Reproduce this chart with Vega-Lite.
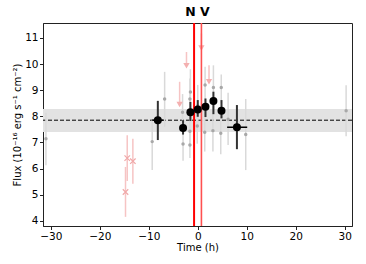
{
  "$schema": "https://vega.github.io/schema/vega-lite/v6.json",
  "width": 309,
  "height": 203,
  "autosize": {"type": "none"},
  "padding": {"left": 43, "top": 23, "right": 14, "bottom": 38},
  "title": {"text": "N V", "fontSize": 12.5, "fontWeight": "bold", "font": "DejaVu Sans", "color": "black", "offset": 4, "anchor": "middle", "frame": "group"},
  "datasets": {
    "gray": [
      {"t": -31.0, "v": 7.14, "lo": 6.13, "hi": 8.13},
      {"t": -9.3, "v": 7.03, "lo": 5.94, "hi": 7.85},
      {"t": -6.76, "v": 8.66, "lo": 7.6, "hi": 9.7},
      {"t": -3.1, "v": 8.15, "lo": 7.45, "hi": 8.85},
      {"t": -3.0, "v": 6.94, "lo": 6.3, "hi": 7.55},
      {"t": -1.6, "v": 8.66, "lo": 7.9, "hi": 9.45},
      {"t": -1.5, "v": 8.93, "lo": 8.05, "hi": 9.8},
      {"t": -1.6, "v": 7.43, "lo": 6.8, "hi": 8.05},
      {"t": -1.6, "v": 6.9, "lo": 6.4, "hi": 7.5},
      {"t": 0.0, "v": 8.39, "lo": 7.6, "hi": 9.2},
      {"t": -0.1, "v": 7.63, "lo": 6.95, "hi": 8.3},
      {"t": 1.5, "v": 9.2, "lo": 8.5, "hi": 9.9},
      {"t": 1.43, "v": 7.39, "lo": 6.65, "hi": 8.15},
      {"t": 3.2, "v": 9.1, "lo": 8.1, "hi": 9.95},
      {"t": 3.1, "v": 7.45, "lo": 6.65, "hi": 8.25},
      {"t": 4.8, "v": 9.1, "lo": 8.5, "hi": 9.6},
      {"t": 4.7, "v": 7.35, "lo": 6.55, "hi": 8.15},
      {"t": 6.2, "v": 7.89, "lo": 6.9, "hi": 8.9},
      {"t": 9.8, "v": 7.3, "lo": 5.94, "hi": 8.66},
      {"t": 30.3, "v": 8.21, "lo": 7.24, "hi": 9.19}
    ],
    "pinkx": [
      {"t": -14.75, "v": 5.1, "lo": 4.15, "hi": 6.06},
      {"t": -14.4, "v": 6.4, "lo": 5.52, "hi": 7.27},
      {"t": -13.25, "v": 6.28, "lo": 5.42, "hi": 7.14}
    ],
    "pinktri": [
      {"t": -3.7, "v": 8.45, "top": 9.32},
      {"t": -2.3, "v": 9.93, "top": 10.46},
      {"t": 0.75, "v": 10.61, "top": 11.17},
      {"t": 2.3, "v": 9.32, "top": 9.95}
    ],
    "black": [
      {"t": -8.15, "v": 7.85, "lo": 7.09, "hi": 8.59},
      {"t": -3.0, "v": 7.55, "lo": 7.3, "hi": 7.85},
      {"t": -1.5, "v": 8.15, "lo": 7.82, "hi": 8.55},
      {"t": 0.0, "v": 8.26, "lo": 7.98, "hi": 8.62},
      {"t": 1.58, "v": 8.36, "lo": 7.97, "hi": 8.68},
      {"t": 3.2, "v": 8.58, "lo": 8.08, "hi": 8.94},
      {"t": 4.85, "v": 8.21, "lo": 7.92, "hi": 8.62},
      {"t": 8.0, "v": 7.58, "lo": 6.74, "hi": 8.43}
    ],
    "blackx": [
      {"v": 7.85, "tlo": -9.3, "thi": -7.0},
      {"v": 7.58, "tlo": 6.0, "thi": 10.1}
    ]
  },
  "layer": [
    {
      "data": {"values": [{"lo": 7.4, "hi": 8.28}]},
      "mark": {"type": "rect", "color": "#e2e2e2"},
      "encoding": {
        "y": {"field": "lo", "type": "quantitative", "scale": {"domain": [3.8, 11.57], "nice": false, "zero": false}, "title": "Flux (10⁻¹⁶ erg s⁻¹ cm⁻²)", "axis": {"values": [4, 5, 6, 7, 8, 9, 10, 11]}},
        "y2": {"field": "hi"}
      }
    },
    {
      "data": {"values": [{"m": 7.85}]},
      "mark": {"type": "rule", "color": "black", "strokeWidth": 1, "strokeDash": [4, 2]},
      "encoding": {"y": {"field": "m", "type": "quantitative", "title": "Flux (10⁻¹⁶ erg s⁻¹ cm⁻²)", "axis": {"values": [4, 5, 6, 7, 8, 9, 10, 11]}}}
    },
    {
      "data": {"name": "gray"},
      "mark": {"type": "rule", "color": "#d9d9d9", "strokeWidth": 1.5},
      "encoding": {
        "x": {"field": "t", "type": "quantitative", "scale": {"domain": [-31.6, 31.5], "nice": false, "zero": false}, "title": "Time (h)", "axis": {"values": [-30, -20, -10, 0, 10, 20, 30]}},
        "y": {"field": "lo", "type": "quantitative", "title": "Flux (10⁻¹⁶ erg s⁻¹ cm⁻²)", "axis": {"values": [4, 5, 6, 7, 8, 9, 10, 11]}},
        "y2": {"field": "hi"}
      }
    },
    {
      "data": {"name": "gray"},
      "mark": {"type": "point", "filled": true, "color": "#a8a8a8", "opacity": 1, "size": 12},
      "encoding": {
        "x": {"field": "t", "type": "quantitative", "title": "Time (h)", "axis": {"values": [-30, -20, -10, 0, 10, 20, 30]}},
        "y": {"field": "v", "type": "quantitative", "title": "Flux (10⁻¹⁶ erg s⁻¹ cm⁻²)", "axis": {"values": [4, 5, 6, 7, 8, 9, 10, 11]}}
      }
    },
    {
      "data": {"name": "pinkx"},
      "mark": {"type": "rule", "color": "#f6c4c4", "strokeWidth": 1.5},
      "encoding": {
        "x": {"field": "t", "type": "quantitative", "title": "Time (h)", "axis": {"values": [-30, -20, -10, 0, 10, 20, 30]}},
        "y": {"field": "lo", "type": "quantitative", "title": "Flux (10⁻¹⁶ erg s⁻¹ cm⁻²)", "axis": {"values": [4, 5, 6, 7, 8, 9, 10, 11]}},
        "y2": {"field": "hi"}
      }
    },
    {
      "data": {"name": "pinkx"},
      "mark": {"type": "point", "shape": "M-1,-1L1,1M-1,1L1,-1", "filled": false, "color": "#f0a8a8", "opacity": 1, "strokeWidth": 1.2, "size": 30},
      "encoding": {
        "x": {"field": "t", "type": "quantitative", "title": "Time (h)", "axis": {"values": [-30, -20, -10, 0, 10, 20, 30]}},
        "y": {"field": "v", "type": "quantitative", "title": "Flux (10⁻¹⁶ erg s⁻¹ cm⁻²)", "axis": {"values": [4, 5, 6, 7, 8, 9, 10, 11]}}
      }
    },
    {
      "data": {"name": "pinktri"},
      "mark": {"type": "rule", "color": "#f6c4c4", "strokeWidth": 1.5},
      "encoding": {
        "x": {"field": "t", "type": "quantitative", "title": "Time (h)", "axis": {"values": [-30, -20, -10, 0, 10, 20, 30]}},
        "y": {"field": "v", "type": "quantitative", "title": "Flux (10⁻¹⁶ erg s⁻¹ cm⁻²)", "axis": {"values": [4, 5, 6, 7, 8, 9, 10, 11]}},
        "y2": {"field": "top"}
      }
    },
    {
      "data": {"name": "pinktri"},
      "mark": {"type": "point", "shape": "triangle-down", "filled": true, "color": "#f4b0b0", "opacity": 1, "size": 40},
      "encoding": {
        "x": {"field": "t", "type": "quantitative", "title": "Time (h)", "axis": {"values": [-30, -20, -10, 0, 10, 20, 30]}},
        "y": {"field": "v", "type": "quantitative", "title": "Flux (10⁻¹⁶ erg s⁻¹ cm⁻²)", "axis": {"values": [4, 5, 6, 7, 8, 9, 10, 11]}}
      }
    },
    {
      "data": {"values": [{"t": -0.75}]},
      "mark": {"type": "rule", "color": "#ff0000", "strokeWidth": 2},
      "encoding": {"x": {"field": "t", "type": "quantitative", "title": "Time (h)", "axis": {"values": [-30, -20, -10, 0, 10, 20, 30]}}}
    },
    {
      "data": {"values": [{"t": 0.75}]},
      "mark": {"type": "rule", "color": "#ff5050", "strokeWidth": 1.6},
      "encoding": {"x": {"field": "t", "type": "quantitative", "title": "Time (h)", "axis": {"values": [-30, -20, -10, 0, 10, 20, 30]}}}
    },
    {
      "data": {"name": "black"},
      "mark": {"type": "rule", "color": "#333333", "strokeWidth": 2},
      "encoding": {
        "x": {"field": "t", "type": "quantitative", "title": "Time (h)", "axis": {"values": [-30, -20, -10, 0, 10, 20, 30]}},
        "y": {"field": "lo", "type": "quantitative", "title": "Flux (10⁻¹⁶ erg s⁻¹ cm⁻²)", "axis": {"values": [4, 5, 6, 7, 8, 9, 10, 11]}},
        "y2": {"field": "hi"}
      }
    },
    {
      "data": {"name": "blackx"},
      "mark": {"type": "rule", "color": "#000000", "strokeWidth": 1.5},
      "encoding": {
        "x": {"field": "tlo", "type": "quantitative", "title": "Time (h)", "axis": {"values": [-30, -20, -10, 0, 10, 20, 30]}},
        "x2": {"field": "thi"},
        "y": {"field": "v", "type": "quantitative", "title": "Flux (10⁻¹⁶ erg s⁻¹ cm⁻²)", "axis": {"values": [4, 5, 6, 7, 8, 9, 10, 11]}}
      }
    },
    {
      "data": {"name": "black"},
      "mark": {"type": "point", "filled": true, "color": "#000000", "opacity": 1, "size": 64},
      "encoding": {
        "x": {"field": "t", "type": "quantitative", "title": "Time (h)", "axis": {"values": [-30, -20, -10, 0, 10, 20, 30]}},
        "y": {"field": "v", "type": "quantitative", "title": "Flux (10⁻¹⁶ erg s⁻¹ cm⁻²)", "axis": {"values": [4, 5, 6, 7, 8, 9, 10, 11]}}
      }
    }
  ],
  "config": {
    "font": "DejaVu Sans",
    "view": {"stroke": "#222222", "strokeWidth": 1},
    "axis": {
      "grid": false,
      "domainColor": "#222222",
      "tickColor": "#222222",
      "labelColor": "black",
      "titleColor": "black",
      "labelFont": "DejaVu Sans",
      "titleFont": "DejaVu Sans",
      "labelFontSize": 10.5,
      "titleFontSize": 10,
      "titleFontWeight": "normal",
      "tickSize": 3.5,
      "labelPadding": 1.5,
      "labelOverlap": false,
      "labelFlush": false
    },
    "axisX": {"titlePadding": 1},
    "axisY": {"titlePadding": 2}
  }
}
